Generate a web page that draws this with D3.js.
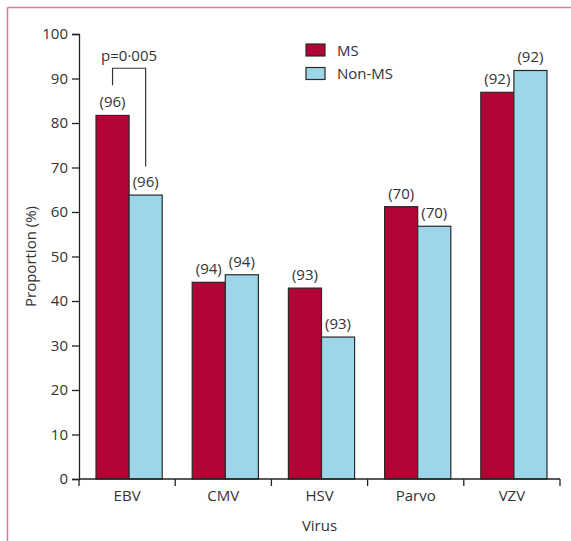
<!DOCTYPE html>
<html>
<head>
<meta charset="utf-8">
<script src="https://cdn.jsdelivr.net/npm/d3@7"></script>
<style>
  body { margin: 0; background: #fff; }
  text { font-family: "Open Sans", "Noto Sans", sans-serif; fill: #333; }
</style>
</head>
<body>
<div id="chart"></div>
<script>
// data
var viruses = ["EBV", "CMV", "HSV", "Parvo", "VZV"];
var msValues = [81.7, 44.2, 42.9, 61.2, 86.9];
var nonMsValues = [63.8, 45.9, 31.9, 56.8, 91.8];
var msN = [96, 94, 93, 70, 92];
var nonMsN = [96, 94, 93, 70, 92];
var yTicks = [0, 10, 20, 30, 40, 50, 60, 70, 80, 90, 100];
var seriesNames = ["MS", "Non-MS"];

var W = 571, H = 541;
var margin = { top: 34, right: 11, bottom: 62, left: 79 },
    width = W - margin.left - margin.right,
    height = H - margin.top - margin.bottom;
var fs = "15px";

var root = d3.select("#chart").append("svg")
    .attr("width", W)
    .attr("height", H);

// pink frame (top and left only)
root.append("line").attr("x1", 7.5).attr("x2", W).attr("y1", 7.5).attr("y2", 7.5)
    .attr("stroke", "#d67b97").attr("stroke-width", 1.5);
root.append("line").attr("x1", 7.5).attr("x2", 7.5).attr("y1", 7.5).attr("y2", H)
    .attr("stroke", "#d67b97").attr("stroke-width", 1.5);

var svg = root.append("g")
    .attr("transform", "translate(" + margin.left + "," + margin.top + ")");

var x = d3.scaleBand().domain(viruses).range([0, width]);
var y = d3.scaleLinear().domain([0, 100]).range([height, 0]);
var sub = d3.scaleBand().domain(seriesNames).range([17, x.bandwidth() - 13]);
var color = d3.scaleOrdinal().domain(seriesNames).range(["#b00535", "#9dd6e8"]);

var rows = viruses.map(function (v, i) {
    return { virus: v, vals: [
        { s: "MS", v: msValues[i], n: msN[i] },
        { s: "Non-MS", v: nonMsValues[i], n: nonMsN[i] }
    ] };
});

// bars
var groups = svg.selectAll(".grp").data(rows).enter().append("g")
    .attr("class", "grp")
    .attr("transform", function (d) { return "translate(" + x(d.virus) + ",0)"; });

groups.selectAll("rect").data(function (d) { return d.vals; }).enter().append("rect")
    .attr("x", function (d) { return sub(d.s); })
    .attr("y", function (d) { return y(d.v); })
    .attr("width", sub.bandwidth())
    .attr("height", function (d) { return height - y(d.v); })
    .attr("fill", function (d) { return color(d.s); })
    .attr("stroke", "#2a2a2a")
    .attr("stroke-width", 1.2);

groups.selectAll(".nlab").data(function (d) { return d.vals; }).enter().append("text")
    .attr("class", "nlab")
    .attr("x", function (d) { return sub(d.s) + sub.bandwidth() / 2; })
    .attr("y", function (d) { return y(d.v) - 8; })
    .attr("text-anchor", "middle")
    .style("font-size", fs)
    .text(function (d) { return "(" + d.n + ")"; });

// y axis
var yAxis = svg.append("g")
    .call(d3.axisLeft(y).tickValues(yTicks).tickSize(7).tickPadding(4));
yAxis.selectAll("text").style("font-size", fs);
yAxis.select(".domain").attr("stroke", "#222").attr("stroke-width", 1.3);
yAxis.selectAll(".tick line").attr("stroke", "#222").attr("stroke-width", 1.3);

// x axis with ticks at category boundaries
var xAxis = svg.append("g").attr("transform", "translate(0," + height + ")");
xAxis.append("line").attr("x1", 0).attr("x2", width).attr("y1", 0).attr("y2", 0)
    .attr("stroke", "#222").attr("stroke-width", 1.3);
var bounds = viruses.map(function (v) { return x(v); }).concat([width]);
xAxis.selectAll(".bt").data(bounds).enter().append("line")
    .attr("x1", function (d) { return d; }).attr("x2", function (d) { return d; })
    .attr("y1", 0).attr("y2", 7)
    .attr("stroke", "#222").attr("stroke-width", 1.3);
xAxis.selectAll(".xl").data(viruses).enter().append("text")
    .attr("x", function (d) { return x(d) + x.bandwidth() / 2; })
    .attr("y", 22)
    .attr("text-anchor", "middle")
    .style("font-size", fs)
    .text(function (d) { return d; });

// axis titles
svg.append("text")
    .attr("x", width / 2)
    .attr("y", height + 52)
    .attr("text-anchor", "middle")
    .style("font-size", fs)
    .text("Virus");

svg.append("text")
    .attr("transform", "rotate(-90)")
    .attr("x", -height / 2)
    .attr("y", -43)
    .attr("text-anchor", "middle")
    .style("font-size", fs)
    .text("Proportion (%)");

// significance bracket for EBV
var bx0 = x("EBV") + sub("MS") + sub.bandwidth() / 2;
var bx1 = x("EBV") + sub("Non-MS") + sub.bandwidth() / 2;
svg.append("path")
    .attr("d", "M" + bx0 + "," + y(88.5) + "V" + y(92.3) + "H" + bx1 + "V" + y(70.2))
    .attr("fill", "none")
    .attr("stroke", "#333")
    .attr("stroke-width", 1.2);
svg.append("text")
    .attr("x", (bx0 + bx1) / 2)
    .attr("y", y(92.3) - 7)
    .attr("text-anchor", "middle")
    .style("font-size", fs)
    .text("p=0·005");

// legend
var legend = svg.selectAll(".leg").data(seriesNames).enter().append("g")
    .attr("transform", function (d, i) { return "translate(" + (227) + "," + (10 + i * 23.5) + ")"; });
legend.append("rect")
    .attr("width", 19).attr("height", 12)
    .attr("fill", function (d) { return color(d); })
    .attr("stroke", "#2a2a2a").attr("stroke-width", 1.2);
legend.append("text")
    .attr("x", 31).attr("y", 11.5)
    .style("font-size", fs)
    .text(function (d) { return d; });
</script>
</body>
</html>
